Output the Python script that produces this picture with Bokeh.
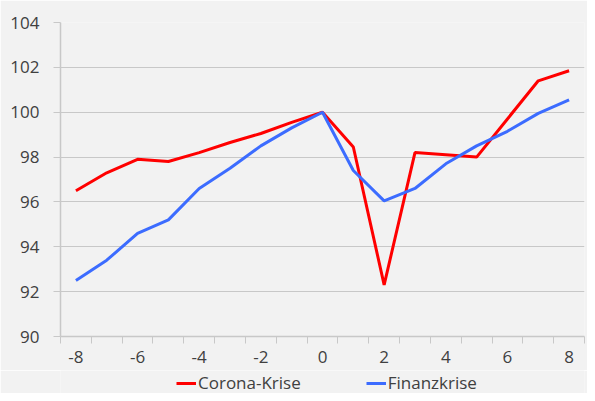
from bokeh.plotting import figure
from bokeh.layouts import column
from bokeh.models import Range1d, FixedTicker, Legend, LegendItem, PrintfTickFormatter
from bokeh.embed import file_html
from bokeh.resources import INLINE

quarters = list(range(-8, 9))
corona = [96.5, 97.3, 97.9, 97.8, 98.2, 98.65, 99.05, 99.55, 100.0,
          98.45, 92.3, 98.2, 98.1, 98.0, 99.7, 101.4, 101.85]
finanz = [92.5, 93.4, 94.6, 95.2, 96.6, 97.5, 98.5, 99.3, 100.0,
          97.4, 96.05, 96.6, 97.7, 98.5, 99.15, 99.95, 100.55]
x_labels = [-8, -6, -4, -2, 0, 2, 4, 6, 8]
y_ticks = [90, 92, 94, 96, 98, 100, 102, 104]
series_names = ["Corona-Krise", "Finanzkrise"]
series_colors = ["#ff0000", "#3c6cff"]

FONT = "Open Sans"
TXT = "#404040"
GRID = "#c8c8c8"
BG = "#f2f2f2"

p = figure(width=587, height=370, output_backend="svg", toolbar_location=None,
           x_range=Range1d(-8.5, 8.5), y_range=Range1d(90, 104),
           min_border_left=60, min_border_right=3, min_border_top=22,
           min_border_bottom=34)
p.background_fill_color = BG
p.border_fill_color = BG
p.outline_line_color = None

p.xaxis.ticker = FixedTicker(ticks=x_labels,
                             minor_ticks=[q + 0.5 for q in range(-9, 9)])
p.yaxis.ticker = FixedTicker(ticks=y_ticks)
p.xaxis.formatter = PrintfTickFormatter(format="%d")
p.yaxis.formatter = PrintfTickFormatter(format="%d")
p.xgrid.grid_line_color = None
p.ygrid.grid_line_color = GRID
p.ygrid.grid_line_width = 1

for ax in (p.xaxis[0], p.yaxis[0]):
    ax.axis_line_color = GRID
    ax.axis_line_width = 1.5
    ax.major_label_text_font = FONT
    ax.major_label_text_font_size = "17px"
    ax.major_label_text_color = TXT
    ax.major_tick_line_color = GRID
    ax.minor_tick_line_color = GRID
    ax.major_tick_in = 0
    ax.minor_tick_in = 0

p.xaxis.major_tick_out = 0
p.xaxis.minor_tick_out = 7
p.xaxis.major_label_standoff = 7
p.yaxis.major_tick_out = 7
p.yaxis.minor_tick_out = 0
p.yaxis.major_label_standoff = 14

p.line(quarters, corona, line_color=series_colors[0], line_width=3)
p.line(quarters, finanz, line_color=series_colors[1], line_width=3)

# legend strip below the chart
lg = figure(width=587, height=23, output_backend="svg", toolbar_location=None,
            x_range=Range1d(0, 1), y_range=Range1d(0, 1),
            min_border_left=0, min_border_right=0, min_border_top=0,
            min_border_bottom=0)
lg.background_fill_color = BG
lg.border_fill_color = BG
lg.outline_line_color = None
lg.axis.visible = False
lg.grid.visible = False
items = []
for name, col in zip(series_names, series_colors):
    # proxy renderer kept outside the visible range; only its legend swatch shows
    r = lg.line([-5, -4], [-5, -4], line_color=col, line_width=3)
    items.append(LegendItem(label=name, renderers=[r]))

legend = Legend(items=items, orientation="horizontal", location=(116, -1),
                background_fill_alpha=0, border_line_color=None,
                padding=0, margin=0, spacing=65, label_standoff=2,
                glyph_width=20, glyph_height=18, label_height=18,
                label_text_font=FONT, label_text_font_size="17px",
                label_text_color=TXT)
lg.add_layout(legend, "center")

layout = column(p, lg, spacing=0)
open("out.html", "w").write(file_html(layout, INLINE))
